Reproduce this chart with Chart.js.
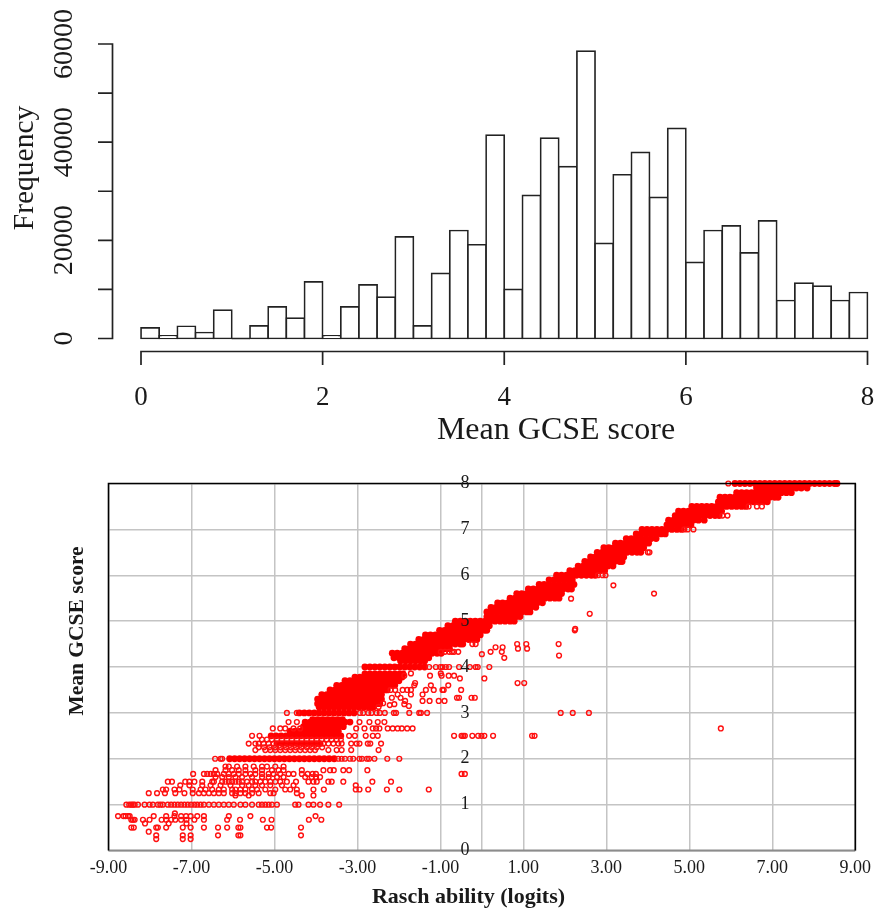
<!DOCTYPE html>
<html><head><meta charset="utf-8">
<script src="https://cdn.jsdelivr.net/npm/chart.js@4/dist/chart.umd.js"></script>
<style>html,body{margin:0;padding:0;background:#fff;overflow:hidden}canvas{position:absolute;left:0;display:block}</style>
</head><body>
<canvas id="hist" width="878" height="450" style="top:0"></canvas>
<canvas id="scat" width="878" height="460" style="top:450px"></canvas>
<script>
// ---- histogram data ----
const binCentres=[0.1,0.3,0.5,0.7,0.9,1.1,1.3,1.5,1.7,1.9,2.1,2.3,2.5,2.7,2.9,3.1,3.3,3.5,3.7,3.9,4.1,4.3,4.5,4.7,4.9,5.1,5.3,5.5,5.7,5.9,6.1,6.3,6.5,6.7,6.9,7.1,7.3,7.5,7.7,7.9];
const frequency=[2170,540,2500,1220,5770,0,2580,6450,4140,11550,540,6450,10940,8420,20700,2580,13250,22000,19100,41440,10000,29150,40830,35000,58560,19360,33360,37900,28740,42800,15490,22000,22960,17460,23980,7740,11280,10670,7740,9375];
const histYTicks=[0,10000,20000,30000,40000,50000,60000];
const histXTicks=[0,2,4,6,8];
const histXTitle="Mean GCSE score", histYTitle="Frequency";
// ---- scatter data: [score, [abilities]] ----
const scatXGrid=[-9,-7,-5,-3,-1,0,1,3,5,7,9];
const scatYTicks=[0,1,2,3,4,5,6,7,8];
const scatXTitle="Rasch ability (logits)", scatYTitle="Mean GCSE score";
const ringRows=[
[0.25,[-7.85,-7.21,-7.02]],
[0.33,[-7.85,-7.21,-7.02,-6.36,-5.87,-5.82,-4.36]],
[0.41,[-8.03]],
[0.5,[-8.45,-8.39,-7.85,-7.81,-7.61,-7.21,-7.02,-6.7,-6.36,-6.14,-5.87,-5.82,-5.18,-5.08,-4.36]],
[0.59,[-8.12,-7.55,-7.12]],
[0.67,[-8.45,-8.41,-8.37,-8.17,-8.01,-7.72,-7.61,-7.49,-7.39,-7.25,-7.12,-6.93,-6.7,-6.14,-5.83,-5.28,-5.07,-4.17,-3.87]],
[0.75,[-8.77,-8.64,-8.59,-8.53,-8.49,-7.91,-7.61,-7.41,-7.25,-7.13,-7.02,-6.86,-6.7,-6.1,-5.58,-4.01]],
[0.81,[-7.4]],
[1,[-8.57,-8.5,-8.45,-8.41,-8.37,-8.29,-8.13,-8.01,-7.93,-7.81,-7.75,-7.69,-7.57,-7.49,-7.41,-7.33,-7.25,-7.17,-7.09,-7.01,-6.93,-6.86,-6.78,-6.7,-6.58,-6.46,-6.34,-6.22,-6.1,-5.98,-5.82,-5.7,-5.54,-5.38,-5.3,-5.22,-5.14,-5.06,-4.94,-4.5,-4.42,-4.18,-4.06,-3.9,-3.7,-3.44]],
[1.2,[-5.94,-5.62,-4.34,-4.06]],
[1.25,[-8.03,-7.83,-7.64,-7.39,-7.17,-6.97,-6.82,-6.7,-6.58,-6.46,-6.34,-6.22,-6.02,-5.94,-5.82,-5.7,-5.54,-5.38,-5.1,-5.02,-4.46]],
[1.33,[-7.69,-7.61,-7.41,-7.29,-6.97,-6.78,-6.66,-6.5,-6.34,-6.22,-6.02,-5.94,-5.82,-5.7,-5.54,-5.42,-5.22,-4.98,-4.74,-4.62,-4.46,-4.06,-3.81,-3.04,-2.95,-2.74,-2.29,-1.99,-1.28]],
[1.42,[-7.27,-7.05,-6.74,-6.54,-6.3,-6.06,-5.78,-5.62,-5.46,-5.3,-5.1,-4.82,-4.54,-3.04]],
[1.5,[-7.57,-7.47,-7.15,-7.05,-6.93,-6.74,-6.5,-6.46,-6.26,-6.18,-6.1,-6.02,-5.94,-5.86,-5.78,-5.66,-5.54,-5.46,-5.34,-5.22,-5.1,-4.98,-4.86,-4.7,-4.48,-4.18,-4.06,-3.98,-3.7,-3.62,-3.34,-2.64,-2.19]],
[1.6,[-6.42,-6.26,-6.1,-5.94,-5.78,-5.54,-5.3,-5.14,-4.94,-4.78,-4.26,-4.1,-4,-3.9]],
[1.67,[-6.96,-6.7,-6.62,-6.54,-6.46,-6.38,-6.22,-6.1,-5.98,-5.86,-5.7,-5.58,-5.46,-5.3,-5.14,-5.02,-4.86,-4.66,-4.54,-4.34,-4.2,-4.08,-4,-0.49,-0.41]],
[1.75,[-6.42,-6.18,-6.02,-5.86,-5.7,-5.46,-5.3,-5.06,-4.9,-4.78,-4.34,-3.82,-3.66,-3.57,-3.34,-3.2,-2.76]],
[1.83,[-6.18,-6.1,-5.9,-5.7,-5.5,-5.3,-5.18,-4.98,-4.78]],
[2,[-6.43,-6.3,-6.26,-3.46,-3.38,-3.3,-3.18,-3.1,-2.95,-2.89,-2.77,-2.72,-2.59,-2.28,-1.99]],
[2.19,[-5.46,-5.22,-5.1,-4.98,-4.86,-4.74,-4.62,-4.5,-4.38,-4.26,-4.14,-4.02,-3.7,-3.5,-3.38,-3.15,-2.49]],
[2.25,[-5.38,-5.25,-5.12,-4.98,-4.85,-4.72,-4.6,-4.48,-4.35,-4.22,-4.1,-3.98,-3.85]],
[2.33,[-5.62,-5.46,-5.38,-5.26,-5.14,-5.02,-3.82,-3.7,-3.58,-3.46,-3.38,-3.15,-3.02,-2.95,-2.75,-2.69,-2.43]],
[2.42,[-5.3,-5.18,-5.06,-4.94,-4.82,-4.7,-4.58,-4.46,-4.34,-4.22,-4.1,-3.98,-3.86,-3.74,-3.62,-3.5,-3.4]],
[2.5,[-5.54,-5.36,-3.2,-3.06,-2.8,-2.63,-2.51,-0.67,-0.49,-0.45,-0.41,-0.23,-0.09,-0.01,0.06,0.27,1.21,1.27]],
[2.66,[-5.04,-4.86,-4.74,-4.54,-4.38,-3.03,-2.83,-2.63,-2.55,-2.47,-2.27,-2.15,-2.03,-1.93,-1.8,-1.67,5.76]],
[2.8,[-4.66,-4.46,-2.95,-2.71,-2.51,-2.35]],
[3,[-4.7,-4.46,-2.94,-2.86,-2.74,-2.66,-2.54,-2.46,-2.34,-2.12,-2.07,-1.75,-1.51,-1.47,-1.32,1.9,2.19,2.58]],
[3.13,[-2.49]],[3.15,[-1.76]],[3.17,[-2.22]],[3.19,[-2.11,-1.87]],[3.21,[-2.38]],
[3.26,[-1.85,-1.43,-1.26,-1.04,-0.9]],
[3.33,[-2.17,-1.96,-0.6,-0.55,-0.25,-0.17]],
[3.4,[-1.71,-2.03,-1.43]],
[3.5,[-2.2,-2.09,-1.91,-1.8,-1.71,-1.35,-1.16,-0.95,-0.92,-0.5]],
[3.6,[-1.63,-1.23,-0.81]],[3.65,[-1.61,0.86,1.02]],
[3.75,[-0.53,0.06]],
[3.81,[-1.87,-1.25,-0.97,-0.8,-0.67]],[3.86,[-1.71,-0.99]],
[4,[-1.27,-1.11,-1,-0.95,-0.87,-0.79,-0.55,-0.29,-0.15,-0.1,0.18]],
[4.2,[0.54]],[4.25,[1.86]],[4.28,[0]],
[4.33,[-0.99,-0.89,-0.79,-0.72,-0.67,-0.57,0.21,0.48]],
[4.4,[0.87,1.09]],[4.43,[0.33,0.5]],
[4.5,[-0.23,-0.15,0.85,1.07,1.85]],
[4.8,[2.24]],[4.83,[2.25]],
[5.16,[2.6]],[5.49,[2.15]],[5.6,[4.15]],[5.78,[3.17]],
[6,[2.8,2.91,2.98]],[6.5,[4,4.04]],[7,[4.88,4.96,5.1]],
[7.3,[5.8,5.92]],[7.5,[6.43,6.63,6.75]],[8,[5.94]]
];
const bandRows=[
[2,[-6.08,-5.96,-5.84,-5.72,-5.6,-5.48,-5.36,-5.24,-5.12,-5,-4.88,-4.76,-4.64,-4.52,-4.4,-4.28,-4.16,-4.04,-3.92,-3.8,-3.68,-3.56]],
[2.33,[-4.94,-4.82,-4.7,-4.58,-4.46,-4.34,-4.22,-4.1,-3.98,-3.9]],
[2.5,[-5.08,-4.96,-4.84,-4.72,-4.6,-4.48,-4.36,-4.24,-4.12,-4,-3.88,-3.76,-3.64,-3.52,-3.4]],
[2.6,[-4.62,-4.5,-4.38,-4.26,-4.14,-4.02,-3.9,-3.78,-3.66,-3.54,-3.46]],
[2.7,[-4.3,-4.18,-4.06,-3.94,-3.82,-3.7,-3.58,-3.46,-3.34]],
[2.8,[-4.26,-4.14,-4.02,-3.9,-3.78,-3.66,-3.54,-3.42,-3.3,-3.18]],
[2.85,[-4.08,-3.96,-3.84,-3.72,-3.6,-3.48,-3.36]],
[3,[-4.4,-4.28,-4.16,-4.04,-3.92,-3.8,-3.68,-3.56,-3.44,-3.32,-3.2,-3.08]],
[3.12,[-3.92,-3.8,-3.68,-3.56,-3.44,-3.32,-3.2,-3.08,-2.96,-2.84,-2.72,-2.62]],
[3.2,[-3.96,-3.84,-3.72,-3.6,-3.48,-3.36,-3.24,-3.12,-3,-2.88,-2.76,-2.64,-2.52,-2.46]],
[3.3,[-3.96,-3.84,-3.72,-3.6,-3.48,-3.36,-3.24,-3.12,-3,-2.88,-2.76,-2.64,-2.52,-2.42]],
[3.4,[-3.86,-3.74,-3.62,-3.5,-3.38,-3.26,-3.14,-3.02,-2.9,-2.78,-2.66,-2.54,-2.42]],
[3.5,[-3.66,-3.54,-3.42,-3.3,-3.18,-3.06,-2.94,-2.82,-2.7,-2.58,-2.46,-2.34,-2.28]],
[3.6,[-3.5,-3.38,-3.26,-3.14,-3.02,-2.9,-2.78,-2.66,-2.54,-2.42,-2.3,-2.18,-2.1]],
[3.7,[-3.3,-3.18,-3.06,-2.94,-2.82,-2.7,-2.58,-2.46,-2.34,-2.22,-2.1,-2]],
[3.78,[-3.06,-2.94,-2.82,-2.7,-2.58,-2.46,-2.34,-2.22,-2.1,-1.98,-1.92]],
[3.85,[-2.82,-2.7,-2.58,-2.46,-2.34,-2.22,-2.1,-1.98,-1.9]],
[4,[-2.82,-2.7,-2.58,-2.46,-2.34,-2.22,-2.1,-1.98,-1.86,-1.74,-1.62,-1.5,-1.38]],
[4.13,[-1.96,-1.84,-1.72,-1.6,-1.48,-1.38]],
[4.2,[-2.12,-2,-1.88,-1.76,-1.64,-1.52,-1.4,-1.28]],
[4.3,[-2.16,-2.04,-1.92,-1.8,-1.68,-1.56,-1.44,-1.32,-1.2,-1.08,-0.98]],
[4.4,[-1.86,-1.74,-1.62,-1.5,-1.38,-1.26,-1.14,-1.02,-0.9,-0.78]],
[4.5,[-1.72,-1.6,-1.48,-1.36,-1.24,-1.12,-1,-0.88,-0.76,-0.64,-0.52,-0.46]],
[4.6,[-1.52,-1.4,-1.28,-1.16,-1.04,-0.92,-0.8,-0.68,-0.56,-0.44,-0.32,-0.2,-0.12]],
[4.7,[-1.36,-1.24,-1.12,-1,-0.88,-0.76,-0.64,-0.52,-0.4,-0.28,-0.16,-0.04]],
[4.8,[-1.02,-0.9,-0.78,-0.66,-0.54,-0.42,-0.3,-0.18,-0.06,0.06,0.12]],
[4.9,[-0.82,-0.7,-0.58,-0.46,-0.34,-0.22,-0.1,0.02,0.14,0.18]],
[5,[-0.64,-0.52,-0.4,-0.28,-0.16,-0.04,0.08,0.2,0.32,0.44,0.56,0.68,0.78]],
[5.1,[0.12,0.24,0.36,0.48,0.6,0.72,0.84,0.92]],
[5.2,[0.12,0.24,0.36,0.48,0.6,0.72,0.84,0.96,1.08,1.16]],
[5.3,[0.22,0.34,0.46,0.58,0.7,0.82,0.94,1.06,1.18,1.3]],
[5.4,[0.38,0.5,0.62,0.74,0.86,0.98,1.1,1.22,1.34,1.46]],
[5.5,[0.68,0.8,0.92,1.04,1.16,1.28,1.4,1.52,1.64,1.76,1.86]],
[5.6,[0.84,0.96,1.08,1.2,1.32,1.44,1.56,1.68,1.8,1.92]],
[5.7,[1.12,1.24,1.36,1.48,1.6,1.72,1.84,1.96,2.08,2.16]],
[5.8,[1.38,1.5,1.62,1.74,1.86,1.98,2.1,2.22]],
[5.9,[1.62,1.74,1.86,1.98,2.1,2.18]],
[6,[1.8,1.92,2.04,2.16,2.28,2.4,2.52,2.64,2.73]],
[6.1,[2.12,2.24,2.36,2.48,2.6,2.72,2.84,2.96]],
[6.2,[2.32,2.44,2.56,2.68,2.8,2.92,3.04,3.16]],
[6.3,[2.48,2.6,2.72,2.84,2.96,3.08,3.2,3.32,3.38]],
[6.4,[2.62,2.74,2.86,2.98,3.1,3.22,3.34,3.42]],
[6.5,[2.78,2.9,3.02,3.14,3.26,3.38,3.5,3.62,3.74,3.83]],
[6.6,[2.94,3.06,3.18,3.3,3.42,3.54,3.66,3.78,3.9]],
[6.7,[3.22,3.34,3.46,3.58,3.7,3.82,3.94,4.02]],
[6.8,[3.48,3.6,3.72,3.84,3.96,4.08,4.2]],
[6.9,[3.72,3.84,3.96,4.08,4.2,4.32,4.42]],
[7,[3.86,3.98,4.1,4.22,4.34,4.46,4.58,4.7,4.81]],
[7.1,[4.46,4.58,4.7,4.82,4.94,5.04]],
[7.2,[4.5,4.62,4.74,4.86,4.98,5.1,5.22,5.36]],
[7.3,[4.66,4.78,4.9,5.02,5.14,5.26,5.38,5.5,5.62,5.72]],
[7.4,[4.74,4.86,4.98,5.1,5.22,5.34,5.46,5.58,5.7,5.78]],
[7.5,[5.06,5.18,5.3,5.42,5.54,5.66,5.78,5.9,6.02,6.14,6.26,6.36]],
[7.6,[5.7,5.82,5.94,6.06,6.18,6.3,6.42,6.54,6.66,6.78,6.88]],
[7.7,[5.74,5.86,5.98,6.1,6.22,6.34,6.46,6.58,6.7,6.82,6.94,7.06,7.14]],
[7.8,[6.14,6.26,6.38,6.5,6.62,6.74,6.86,6.98,7.1,7.22,7.34,7.46]],
[7.9,[6.62,6.74,6.86,6.98,7.1,7.22,7.34,7.46,7.58,7.7,7.84]],
[8,[6.1,6.22,6.34,6.46,6.58,6.7,6.82,6.94,7.06,7.18,7.3,7.42,7.54,7.66,7.78,7.9,8.02,8.14,8.26,8.38,8.5,8.56]]
];
const toPoints=rows=>rows.flatMap(([y,xs])=>xs.map(x=>({x,y})));
const SERIF='"Liberation Serif","Times New Roman",serif';
const INK='#1a1a1a';

function text(ctx,str,x,y,font,rot){
  ctx.save();ctx.translate(x,y);if(rot)ctx.rotate(rot);
  ctx.font=font;ctx.fillStyle=INK;ctx.textAlign='center';ctx.textBaseline='middle';
  ctx.fillText(str,0,0);ctx.restore();
}
const rAxes={id:'rAxes',afterDraw(c){
  const {ctx,scales:{x,y}}=c;ctx.save();ctx.strokeStyle='#222';ctx.lineWidth=1.7;ctx.lineCap='butt';
  const ax=112.5,ay=351.5,yTop=y.getPixelForValue(60000),yBot=y.getPixelForValue(0);
  ctx.beginPath();ctx.moveTo(ax,yTop-.85);ctx.lineTo(ax,yBot+.85);
  histYTicks.forEach(v=>{const p=y.getPixelForValue(v);ctx.moveTo(ax,p);ctx.lineTo(98,p);});
  ctx.moveTo(x.getPixelForValue(0)-.85,ay);ctx.lineTo(x.getPixelForValue(8)+.85,ay);
  histXTicks.forEach(v=>{const p=x.getPixelForValue(v);ctx.moveTo(p,ay);ctx.lineTo(p,365);});
  ctx.moveTo(x.getPixelForValue(1),yBot);ctx.lineTo(x.getPixelForValue(1.2),yBot);
  ctx.stroke();ctx.restore();
  text(ctx,histXTitle,556,431,'32px '+SERIF);
  text(ctx,histYTitle,25,168,'29.5px '+SERIF,-Math.PI/2);
}};
new Chart(document.getElementById('hist'),{type:'bar',plugins:[rAxes],
 data:{datasets:[{data:binCentres.map((x,i)=>({x,y:frequency[i]})),backgroundColor:'#fff',borderColor:'#222',borderWidth:1.7,borderSkipped:false,inflateAmount:.85,barPercentage:1,categoryPercentage:1,clip:false}]},
 options:{responsive:false,animation:false,devicePixelRatio:1,
  layout:{padding:{top:44,right:10.5,left:0,bottom:0}},
  plugins:{legend:{display:false},tooltip:{enabled:false}},
  scales:{
   x:{type:'linear',min:0,max:8,offset:false,grid:{display:false,drawTicks:false},border:{display:false},
      afterBuildTicks:s=>{s.ticks=histXTicks.map(value=>({value}));},
      afterFit:s=>{s.height=111.5;s.paddingLeft=0;s.paddingRight=0;},
      ticks:{autoSkip:false,maxRotation:0,padding:43,color:INK,font:{family:SERIF,size:27}}},
   y:{type:'linear',min:0,max:60000,grid:{display:false,drawTicks:false},border:{display:false},
      afterBuildTicks:s=>{s.ticks=histYTicks.map(value=>({value}));},
      afterFit:s=>{s.width=141;s.paddingTop=0;s.paddingBottom=0;},
      ticks:{autoSkip:false,minRotation:90,maxRotation:90,crossAlign:'center',padding:41,color:INK,font:{family:SERIF,size:28},
        callback:v=>v%20000===0?String(v):null}}
  }}});

const frame={id:'frame',afterDatasetsDraw(c){
  const {ctx,chartArea:a}=c;ctx.save();
  ctx.strokeStyle='#8c8c8c';ctx.lineWidth=2;ctx.beginPath();ctx.moveTo(a.left,a.bottom);ctx.lineTo(a.right,a.bottom);ctx.stroke();
  ctx.strokeStyle='#000';ctx.lineWidth=1.6;ctx.beginPath();ctx.moveTo(a.left,a.bottom);ctx.lineTo(a.left,a.top);ctx.lineTo(a.right,a.top);ctx.lineTo(a.right,a.bottom);ctx.stroke();
  ctx.restore();
},afterDraw(c){
  text(c.ctx,scatXTitle,468.5,447,'bold 22px '+SERIF);
  text(c.ctx,scatYTitle,77,181,'bold 21.5px '+SERIF,-Math.PI/2);
}};
new Chart(document.getElementById('scat'),{type:'scatter',plugins:[frame],
 data:{datasets:[
  {data:toPoints(ringRows),pointRadius:2.4,pointBorderWidth:1.4,pointBorderColor:'#ff1010',pointBackgroundColor:'rgba(255,255,255,0)',clip:false},
  {data:toPoints(bandRows),pointRadius:3.4,pointBorderWidth:0,pointBackgroundColor:'#ff0000',clip:false}
 ]},
 options:{responsive:false,animation:false,devicePixelRatio:1,
  layout:{padding:{top:33.5,right:18,left:108.5,bottom:0}},
  plugins:{legend:{display:false},tooltip:{enabled:false}},
  scales:{
   x:{type:'linear',min:-9,max:9,grid:{color:'#c4c4c4',lineWidth:1.5,drawTicks:false},border:{display:false},
      afterBuildTicks:s=>{s.ticks=scatXGrid.map(value=>({value}));},
      afterFit:s=>{s.height=59.5;},
      ticks:{autoSkip:false,maxRotation:0,padding:7,color:INK,font:{family:SERIF,size:18},
        callback:v=>v===0?'':v.toFixed(2)}},
   y:{type:'linear',axis:'y',position:{x:-0.3},min:0,max:8,grid:{color:'#c4c4c4',lineWidth:1.5,drawTicks:false},border:{display:false},
      afterBuildTicks:s=>{s.ticks=scatYTicks.map(value=>({value}));},
      ticks:{autoSkip:false,z:2,color:INK,font:{family:SERIF,size:18},callback:v=>String(v)}}
  }}});
</script>
</body></html>
